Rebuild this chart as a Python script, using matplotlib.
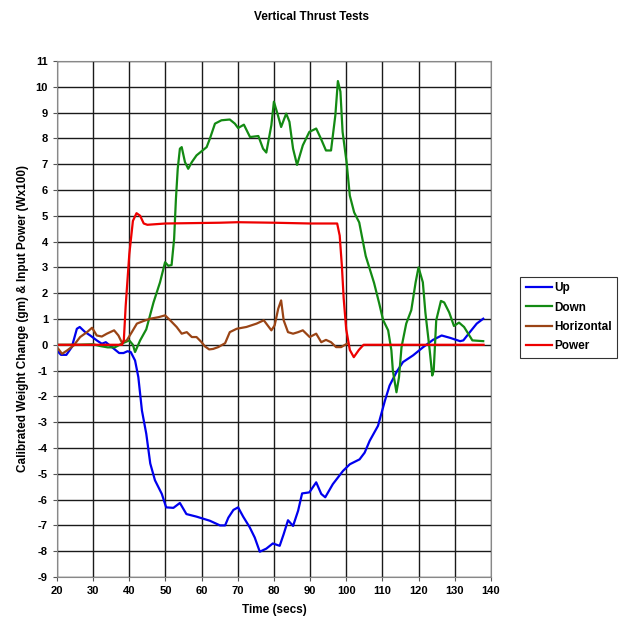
import matplotlib
matplotlib.use("Agg")
import matplotlib.pyplot as plt

plt.rcParams['font.family'] = ['Liberation Sans', 'DejaVu Sans']
plt.rcParams['font.weight'] = 'bold'
plt.rcParams['axes.unicode_minus'] = False

# Up
up_t = [20, 21.1, 22.6, 24.1, 25.5, 26.3, 27.8, 29.2, 31.0, 32.4, 33.5, 35.2, 37.2, 38.4,
        39.5, 40.4, 41.6, 42.5, 43.5, 44.7, 45.8, 47.1, 49.0, 50.2, 52.2, 54.0, 55.8,
        58.6, 62.3, 65.1, 66.5, 67.4, 68.8, 70.1, 71.5, 73.3, 74.7, 76.1, 77.9, 79.7,
        81.6, 82.7, 83.9, 85.3, 86.7, 87.8, 89.8, 91.7, 93.1, 94.2, 96.3, 99.1, 101.0,
        103.7, 105.1, 106.5, 108.8, 110.7, 112.0, 113.9, 115.7, 118.5, 121.3, 124.0,
        126.4, 128.7, 131.5, 132.4, 134.2, 136.1, 137.9]
up_v = [-0.22, -0.39, -0.39, -0.09, 0.62, 0.69, 0.49, 0.36, 0.17, 0.04, 0.10, -0.09, -0.32,
        -0.32, -0.25, -0.28, -0.61, -1.25, -2.55, -3.45, -4.6, -5.25, -5.78, -6.3, -6.32,
        -6.13, -6.56, -6.66, -6.82, -7.0, -7.0, -6.7, -6.4, -6.3, -6.66, -7.07, -7.47,
        -8.02, -7.9, -7.7, -7.79, -7.34, -6.8, -7.02, -6.43, -5.76, -5.72, -5.33, -5.78,
        -5.91, -5.4, -4.89, -4.63, -4.44, -4.18, -3.72, -3.14, -2.17, -1.58, -1.06, -0.67,
        -0.41, -0.09, 0.19, 0.36, 0.27, 0.14, 0.17, 0.49, 0.82, 1.01]

# Down
down_t = [20, 25, 30, 32, 34, 36, 38, 40, 41, 41.6, 43.0, 44.7, 46.7, 48.5, 49.9, 50.8,
          51.7, 52.4, 52.9, 53.4, 54.0, 54.5, 55.4, 56.3, 57.3, 58.6, 61.4, 62.3, 63.7,
          65.5, 67.8, 69.2, 70.1, 71.7, 73.4, 75.7, 77.0, 77.9, 79.3, 80.0, 81.1, 82.0,
          83.4, 84.3, 85.3, 86.4, 88.0, 89.8, 91.7, 93.0, 94.4, 95.8, 97.0, 97.7, 98.4,
          99.0, 100.1, 101.0, 102.2, 103.6, 105.4, 107.7, 109.1, 110.2, 111.6, 112.5,
          112.9, 113.9, 114.6, 115.3, 116.6, 118.0, 119.2, 120.0, 121.2, 121.9, 123.1,
          123.8, 124.2, 124.9, 126.2, 127.1, 128.5, 129.8, 131.2, 132.6, 134.9, 137.9]
down_v = [0.0, 0.0, 0.02, -0.05, -0.1, -0.1, 0.05, 0.17, 0.0, -0.28, 0.17, 0.6, 1.64, 2.42,
          3.2, 3.06, 3.09, 4.1, 5.65, 6.82, 7.6, 7.66, 7.08, 6.82, 7.08, 7.34, 7.66, 7.99,
          8.57, 8.7, 8.73, 8.57, 8.4, 8.53, 8.05, 8.09, 7.6, 7.45, 8.51, 9.42, 8.9, 8.44,
          8.96, 8.64, 7.6, 6.97, 7.73, 8.25, 8.38, 7.99, 7.53, 7.53, 8.9, 10.22, 9.81, 8.25,
          7.08, 5.78, 5.13, 4.74, 3.44, 2.4, 1.62, 0.96, 0.56, -0.22, -1.0, -1.84, -1.26,
          -0.09, 0.82, 1.34, 2.42, 3.0, 2.42, 1.25, -0.22, -1.19, -1.0, 0.95, 1.7, 1.64,
          1.25, 0.73, 0.86, 0.69, 0.17, 0.14]

# Horizontal
horiz_t = [20, 21.4, 22.8, 24.6, 26.4, 28.3, 29.7, 31.0, 32.4, 33.8, 35.8, 37.0, 37.9,
           39.3, 40.7, 42.1, 43.9, 45.8, 48.1, 49.9, 51.3, 53.1, 54.5, 55.9, 57.3, 58.6,
           60.0, 60.9, 62.1, 63.2, 64.6, 66.5, 67.8, 69.7, 72.4, 75.2, 77.2, 79.3, 80.2,
           81.2, 82.0, 82.7, 83.9, 85.3, 86.7, 88.0, 89.9, 91.7, 93.1, 94.4, 95.8, 97.2,
           98.6, 100.2]
horiz_v = [-0.09, -0.35, -0.22, -0.03, 0.3, 0.49, 0.66, 0.36, 0.32, 0.43, 0.56, 0.36, 0.1,
           0.17, 0.49, 0.82, 0.92, 1.01, 1.07, 1.14, 0.95, 0.69, 0.43, 0.49, 0.3, 0.3, 0.1,
           -0.06, -0.18, -0.16, -0.09, 0.06, 0.49, 0.62, 0.69, 0.82, 0.95, 0.56, 0.75, 1.4,
           1.72, 0.95, 0.49, 0.43, 0.49, 0.56, 0.3, 0.43, 0.1, 0.19, 0.1, -0.09, -0.09, 0.04]

# Power
power_t = [20, 38.0, 38.5, 39.0, 40.0, 41.0, 42.0, 43.0, 44.0, 45.0, 50.0, 65.0, 70.0,
           80.0, 90.0, 97.5, 98.2, 98.8, 99.3, 100.0, 101.0, 102.1, 103.5, 104.8, 138.0]
power_v = [0.0, 0.0, 0.2, 1.5, 3.5, 4.8, 5.1, 5.0, 4.7, 4.65, 4.7, 4.73, 4.75, 4.73, 4.7,
           4.7, 4.23, 3.06, 1.8, 0.6, -0.2, -0.48, -0.2, 0.0, 0.0]

x_ticks = list(range(20, 141, 10))
y_ticks = list(range(-9, 12))

fig = plt.figure(figsize=(6.22, 6.23), dpi=100)
ax = fig.add_axes([0.0916, 0.0738, 0.6975, 0.8284])

ax.plot(up_t, up_v, color='#0000ee', lw=1.6, label='Up')
ax.plot(down_t, down_v, color='#138a13', lw=1.6, label='Down')
ax.plot(horiz_t, horiz_v, color='#9a4415', lw=1.6, label='Horizontal')
ax.plot(power_t, power_v, color='#ee0000', lw=1.6, label='Power')

ax.set_xlim(20, 140)
ax.set_ylim(-9, 11)
ax.set_xticks(x_ticks)
ax.set_yticks(y_ticks)
ax.tick_params(labelsize=8, length=3, direction='out', color='#555555')
for lab in ax.get_xticklabels() + ax.get_yticklabels():
    lab.set_fontweight('bold')
ax.grid(True, color='#1a1a1a', lw=1)
ax.set_axisbelow(True)
for s in ax.spines.values():
    s.set_color('#888888')

ax.set_xlabel('Time (secs)', fontsize=8.5, fontweight='bold', labelpad=6)
ax.set_ylabel('Calibrated Weight Change (gm) & Input Power (Wx100)', fontsize=8.5,
              fontweight='bold', labelpad=5)
fig.suptitle('Vertical Thrust Tests', x=0.5, y=0.983, fontsize=8.5, fontweight='bold')

leg = fig.legend(loc='center left', bbox_to_anchor=(0.826, 0.491), fontsize=8.5,
                 frameon=True, fancybox=False, edgecolor='black', handlelength=2.2,
                 borderpad=0.5, labelspacing=0.6, handletextpad=0.2)
leg.get_frame().set_linewidth(0.8)
for t in leg.get_texts():
    t.set_fontweight('bold')

fig.savefig('out.png', dpi=100)
